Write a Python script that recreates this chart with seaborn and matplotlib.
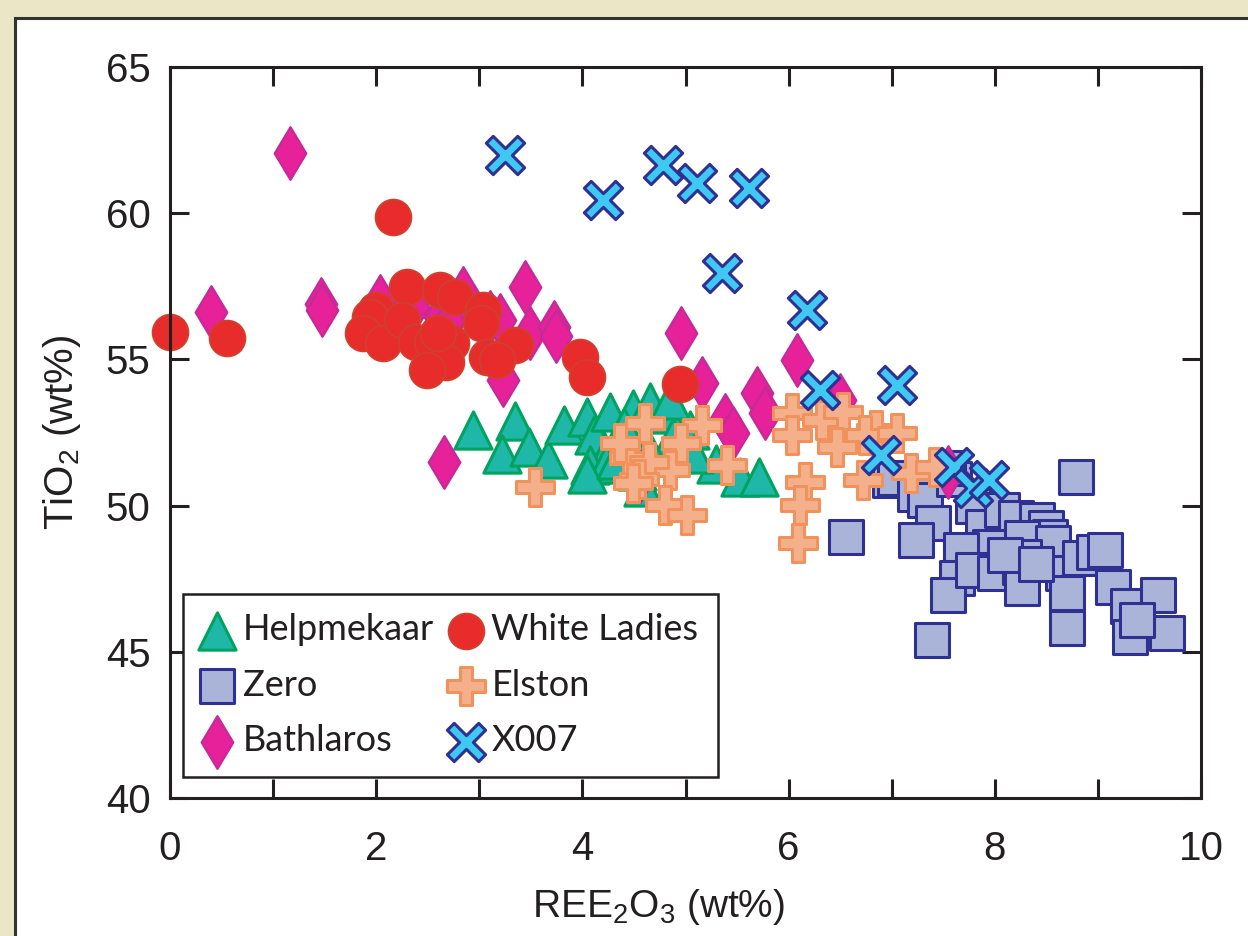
import matplotlib
matplotlib.use("Agg")
import matplotlib.pyplot as plt
from matplotlib.patches import Rectangle
from matplotlib.path import Path
from matplotlib.ticker import MultipleLocator
import pandas as pd
import seaborn as sns

# ---- data: REE2O3 (wt%) vs TiO2 (wt%) ----
helpmekaar_x = [2.94, 3.35, 3.22, 3.48, 3.67, 3.82, 4.04, 4.11, 4.19, 4.27, 4.49, 4.66, 4.07, 4.82,
                5.04, 5.30, 5.53, 5.71, 4.23, 4.53, 4.04, 4.59, 4.88, 5.08, 4.33, 4.85, 4.62, 4.40]
helpmekaar_y = [52.57, 52.91, 51.77, 52.00, 51.60, 52.74, 53.03, 52.40, 51.49, 53.20, 53.31, 53.54, 51.38, 53.14,
                52.57, 51.43, 50.98, 50.98, 51.43, 51.20, 51.09, 50.63, 52.34, 51.77, 51.55, 53.60, 52.10, 52.70]

zero_x = [6.98, 7.03, 7.23, 7.32, 7.40, 7.24, 6.56, 7.39, 7.79, 7.89, 8.07, 8.21, 8.41, 8.50, 8.54,
          7.95, 8.26, 8.56, 7.67, 7.63, 7.55, 7.79, 8.00, 8.24, 8.28, 8.26, 8.66, 8.70, 8.70, 8.83,
          8.96, 9.07, 9.15, 9.29, 9.58, 9.67, 9.31, 9.38, 8.79, 7.60, 8.10, 8.40, 7.55]
zero_y = [50.88, 50.93, 50.40, 50.19, 49.40, 48.82, 48.94, 45.40, 49.97, 49.28, 49.85, 49.57, 49.51, 49.22, 48.94,
          48.60, 48.88, 48.71, 48.48, 47.51, 46.94, 47.80, 47.70, 47.91, 48.25, 47.17, 47.69, 47.00, 45.80, 48.20,
          48.43, 48.48, 47.23, 46.55, 46.94, 45.63, 45.52, 46.10, 50.99, 50.90, 48.30, 48.00, 51.30]

bathlaros_x = [0.40, 1.16, 1.46, 1.47, 2.04, 2.36, 2.62, 2.72, 2.84, 3.10, 3.20, 3.23, 3.44, 3.49,
               3.72, 3.74, 2.66, 4.56, 4.96, 5.16, 5.38, 5.46, 5.69, 5.77, 6.08, 6.50, 6.43, 7.55]
bathlaros_y = [56.63, 62.05, 56.90, 56.70, 57.00, 56.80, 56.45, 56.35, 57.27, 56.45, 56.35, 54.30, 57.48, 55.90,
               56.10, 55.80, 51.50, 51.00, 55.89, 54.18, 52.93, 52.48, 53.84, 53.16, 54.98, 53.60, 52.90, 51.15]

white_ladies_x = [0.00, 0.55, 2.16, 2.30, 2.62, 2.76, 2.00, 1.94, 1.87, 2.07, 2.25, 2.39, 2.54,
                  2.73, 2.68, 2.49, 3.04, 3.02, 3.35, 3.07, 3.17, 3.98, 4.04, 4.95, 2.60]
white_ladies_y = [55.95, 55.72, 59.88, 57.49, 57.37, 57.14, 56.69, 56.46, 55.89, 55.55, 56.35, 55.61, 55.61,
                  55.55, 54.92, 54.64, 56.69, 56.23, 55.49, 55.09, 54.98, 55.09, 54.41, 54.16, 55.90]

elston_x = [3.54, 4.61, 5.16, 4.45, 4.96, 4.85, 5.40, 4.80, 5.01, 4.36, 4.65, 6.03, 6.03, 6.32,
            6.53, 6.47, 6.72, 6.16, 6.11, 6.09, 6.85, 6.74, 7.05, 7.19, 7.42, 4.55, 4.49]
elston_y = [50.65, 52.81, 52.76, 51.62, 52.13, 51.22, 51.39, 50.02, 49.68, 52.13, 51.50, 53.16, 52.40, 52.93,
            53.21, 52.02, 50.88, 50.82, 50.02, 48.71, 52.59, 52.40, 52.47, 51.10, 51.33, 50.90, 50.77]

x007_x = [3.25, 4.20, 4.78, 5.11, 5.62, 5.35, 6.18, 6.30, 7.05, 6.90, 7.60, 7.79, 7.94]
x007_y = [61.99, 60.45, 61.65, 61.03, 60.86, 57.95, 56.69, 53.95, 54.12, 51.73, 51.33, 50.59, 50.88]

# legend order (column-wise, two columns)
legend_order = ["Helpmekaar", "Zero", "Bathlaros", "White Ladies", "Elston", "X007"]


def slim_cross(d=0.36):
    """Filled diagonal cross with slimmer arms than matplotlib's 'X'."""
    e = 1 - d
    verts = [(0, d), (e, 1), (1, e), (d, 0), (1, -e), (e, -1), (0, -d),
             (-e, -1), (-1, -e), (-d, 0), (-1, e), (-e, 1), (0, d)]
    codes = [Path.MOVETO] + [Path.LINETO] * (len(verts) - 2) + [Path.CLOSEPOLY]
    return Path(verts, codes)


# drawing order, bottom to top: (label, x, y, marker, size, face, edge, edge width)
groups = [
    ("Zero", zero_x, zero_y, "s", 600, "#aab4d9", "#2e3192", 2.2),
    ("Helpmekaar", helpmekaar_x, helpmekaar_y, "^", 720, "#1fb8a8", "#00a260", 2.2),
    ("Bathlaros", bathlaros_x, bathlaros_y, "d", 720, "#e6219a", "#c42a98", 1.6),
    ("White Ladies", white_ladies_x, white_ladies_y, "o", 660, "#e82b2b", "#d0402c", 1.4),
    ("Elston", elston_x, elston_y, "P", 760, "#f3b08b", "#f1925c", 2.2),
    ("X007", x007_x, x007_y, slim_cross(), 760, "#3ec8f2", "#2e3192", 2.2),
]

sns.set_style("ticks")
plt.rcParams["font.family"] = ["Liberation Sans", "DejaVu Sans"]
plt.rcParams["mathtext.fontset"] = "custom"
plt.rcParams["mathtext.rm"] = "Liberation Sans"
plt.rcParams["mathtext.it"] = "Liberation Sans:italic"
plt.rcParams["mathtext.default"] = "rm"

ink = "#231f20"
W, H = 1248, 936
fig = plt.figure(figsize=(W / 100, H / 100), dpi=100, facecolor="#ebe6c6")

# white inner panel with a dark frame
fig.patches.append(Rectangle((15 / W, -0.05), 1.2, 1 - 18 / H + 0.05, transform=fig.transFigure,
                             facecolor="white", edgecolor="#333333", linewidth=2.2, zorder=-10))

ax = fig.add_axes([170 / W, 1 - 798 / H, (1201 - 170) / W, (798 - 67) / H])
ax.set_facecolor("white")

for z, (name, xs, ys, mk, sz, fc, ec, lw) in enumerate(groups):
    df = pd.DataFrame({"REE2O3": xs, "TiO2": ys})
    sns.scatterplot(data=df, x="REE2O3", y="TiO2", ax=ax, marker=mk, s=sz, color=fc,
                    edgecolor=ec, linewidth=lw, label=name, zorder=3 + z, clip_on=False)

ax.set_xlim(0, 10)
ax.set_ylim(40, 65)
ax.xaxis.set_major_locator(MultipleLocator(2))
ax.xaxis.set_minor_locator(MultipleLocator(1))
ax.yaxis.set_major_locator(MultipleLocator(5))

for sp in ax.spines.values():
    sp.set_linewidth(2.2)
    sp.set_color(ink)
    sp.set_zorder(20)

ax.tick_params(which="both", direction="in", length=14, width=2.2, color=ink,
               top=True, right=True, labelcolor=ink, labelsize=29)
ax.tick_params(axis="x", which="major", pad=23)
ax.tick_params(axis="y", which="major", pad=14)

ax.set_xlabel("REE$_2$O$_3$ (wt%)", fontsize=28, color=ink, labelpad=14)
ax.xaxis.label.set_x((658 - 170) / (1201 - 170))
ax.set_ylabel("TiO$_2$ (wt%)", fontsize=29, color=ink, labelpad=16)

handles, labels = ax.get_legend_handles_labels()
lookup = dict(zip(labels, handles))
leg = ax.legend([lookup[n] for n in legend_order], legend_order, ncol=2, loc="lower left",
                bbox_to_anchor=(0.0126, 0.0287), frameon=True, fancybox=False, framealpha=1,
                edgecolor=ink, prop={"family": "Lato", "size": 26},
                handlelength=0.8, handletextpad=0.3, columnspacing=0.5,
                labelspacing=0.62, borderpad=0.55, borderaxespad=0)
leg.get_frame().set_linewidth(1.8)
leg.set_zorder(30)
for t in leg.get_texts():
    t.set_color(ink)

fig.savefig("out.png", dpi=100, facecolor=fig.get_facecolor())
